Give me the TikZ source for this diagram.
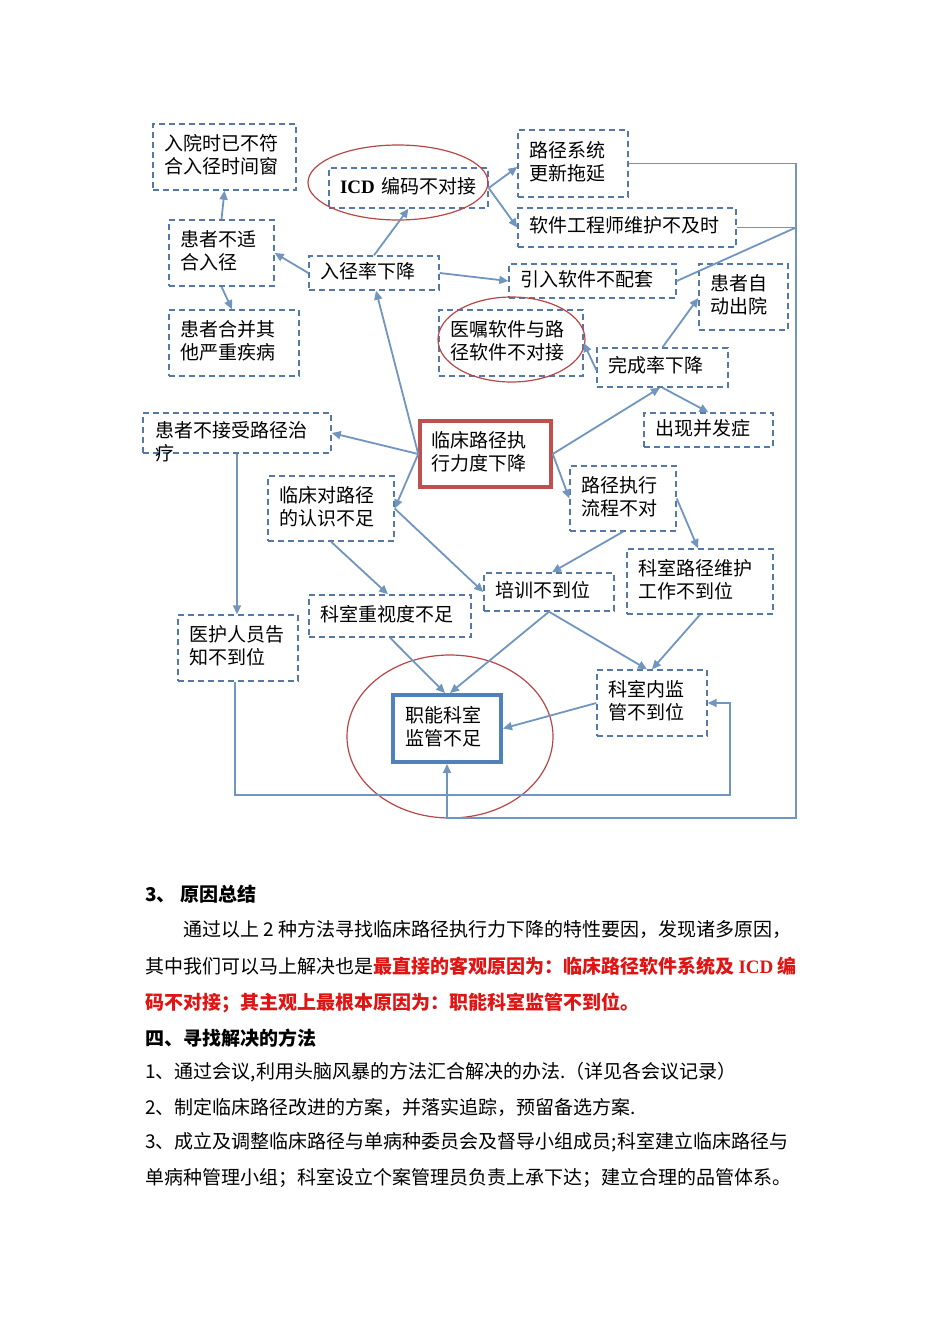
\documentclass[tikz,border=0pt]{standalone}
\usepackage{fontspec}
\setmainfont{Noto Sans CJK SC}
\newfontfamily\serifb{Liberation Serif}
\usetikzlibrary{arrows.meta}
\definecolor{lnblue}{RGB}{112,150,192}
\definecolor{bxblue}{RGB}{84,120,168}
\definecolor{redbox}{RGB}{192,80,77}
\definecolor{ellred}{RGB}{185,70,70}
\definecolor{thickblue}{RGB}{79,129,189}
\definecolor{txtred}{RGB}{225,20,20}
\begin{document}
\begin{tikzpicture}[x=1pt,y=-1pt,
  raise/.style={execute at end node={\endgraf\vspace*{4pt}}},
  bx/.style={draw=bxblue, line width=1.4pt, dash pattern=on 6pt off 4pt, inner xsep=11pt, inner ysep=2pt, align=left, font=\fontsize{19}{23}\selectfont},
  redbx/.style={draw=redbox, line width=3.5pt, inner xsep=11pt, inner ysep=2pt, align=left, font=\fontsize{19}{23}\selectfont, raise},
  bluebx/.style={draw=thickblue, line width=4pt, inner xsep=12pt, inner ysep=2pt, align=left, font=\fontsize{19}{23}\selectfont, raise},
  tbx/.style={bx, raise},
  arr/.style={draw=lnblue, line width=1.8pt, -{Triangle[length=9pt,width=8pt]}},
  ln/.style={draw=lnblue, line width=1.8pt},
  ell/.style={draw=ellred, line width=1.2pt},
  body/.style={anchor=west, inner sep=0pt, font=\fontsize{19}{23}\selectfont}]
\useasboundingbox (0,0) rectangle (950,1344);
\fill[white] (0,0) rectangle (950,1344);

% boxes
\node[tbx, text width=121pt, minimum height=66pt] (A) at (224.5,157) {入院时已不符\\合入径时间窗};
\node[tbx, text width=83pt, minimum height=66pt] (B) at (221.5,253) {患者不适\\合入径};
\node[tbx, text width=108pt, minimum height=66pt] (C) at (234,343) {患者合并其\\他严重疾病};
\node[tbx, text width=137pt, minimum height=40pt] (D) at (408.5,188) {{\serifb\bfseries ICD}~编码不对接};
\node[tbx, text width=108pt, minimum height=34pt] (E) at (374,273) {入径率下降};
\node[tbx, text width=88pt, minimum height=67pt] (F) at (573,163.5) {路径系统\\更新拖延};
\node[tbx, text width=196pt, minimum height=39pt] (G) at (627,227.5) {软件工程师维护不及时};
\node[tbx, text width=145pt, minimum height=34pt] (H) at (592.5,281) {引入软件不配套};
\node[tbx, text width=67pt, minimum height=66pt] (I) at (743.5,297) {患者自\\动出院};
\node[tbx, text width=122pt, minimum height=66pt] (J) at (511,343) {医嘱软件与路\\径软件不对接};
\node[tbx, text width=109pt, minimum height=39pt] (K) at (662.5,367.5) {完成率下降};
\node[tbx, text width=107pt, minimum height=34pt] (L) at (708.5,430) {出现并发症};
\node[bx, minimum width=188pt, minimum height=40pt] (M) at (237,433) {};
\node[anchor=north west, align=left, inner sep=0pt, font=\fontsize{19}{23}\selectfont] (Mt) at (155,421) {患者不接受路径治\\疗};
\node[redbx, text width=109pt, minimum height=66pt] (N) at (485.5,454) {临床路径执\\行力度下降};
\node[tbx, text width=104pt, minimum height=65pt] (O) at (331,508.5) {临床对路径\\的认识不足};
\node[tbx, text width=84pt, minimum height=65pt] (P) at (623,498.5) {路径执行\\流程不对};
\node[tbx, text width=124pt, minimum height=65pt] (Q) at (700,581.5) {科室路径维护\\工作不到位};
\node[tbx, text width=108pt, minimum height=38pt] (R) at (549,592) {培训不到位};
\node[tbx, text width=140pt, minimum height=42pt] (S) at (390,616) {科室重视度不足};
\node[tbx, text width=98pt, minimum height=66pt] (T) at (238,648) {医护人员告\\知不到位};
\node[tbx, text width=88pt, minimum height=66pt] (U) at (652,703) {科室内监\\管不到位};
\node[bluebx, text width=84pt, minimum height=67pt] (V) at (447,728.5) {职能科室\\监管不足};

% ellipses
\draw[ell] (398,182.5) ellipse [x radius=90, y radius=37.5];
\draw[ell] (511.5,339.5) ellipse [x radius=73.5, y radius=42.5];
\draw[ell] (450,736.5) ellipse [x radius=103, y radius=81.5];

% connectors
\draw[arr] (B.north) -- (A.south);
\draw[arr] (B.south) -- ([xshift=-2pt]C.north);
\draw[arr] (E.west) -- (B.east);
\draw[arr] (E.north) -- (D.south);
\draw[arr] (E.east) -- (H.west);
\draw[arr] (D.east) -- ([yshift=-3.5pt]F.west);
\draw[arr] (D.east) -- (G.west);
\draw[arr] (N.west) -- ([xshift=2pt]E.south);
\draw[arr] (N.west) -- (M.east);
\draw[arr] (N.west) -- (O.east);
\draw[arr] (N.east) -- ([xshift=-2.5pt]K.south);
\draw[arr] (N.east) -- (P.west);
\draw[arr] (K.north) -- ([yshift=-1pt]I.west);
\draw[arr] ([yshift=-2.5pt]K.west) -- (J.east);
\draw[arr] (K.south) -- (L.north);
\draw[arr] (O.east) -- (R.west);
\draw[arr] (O.south) -- ([xshift=-2pt]S.north);
\draw[arr] (P.south) -- ([xshift=3pt]R.north);
\draw[arr] (P.east) -- ([xshift=-2pt]Q.north);
\draw[arr] (Q.south) -- (U.north);
\draw[arr] (R.south) -- ([xshift=-5pt]U.north);
\draw[arr] (R.south) -- ([xshift=3pt]V.north);
\draw[arr] (S.south) -- ([xshift=-2pt]V.north);
\draw[arr] (U.west) -- (V.east);
\draw[arr] (M.south) -- (M.south |- T.north);
\coordinate (c1) at (730,795);
\draw[arr] ([xshift=-3pt]T.south) |- (c1) |- (U.east);
\coordinate (c2) at (796,818);
\draw[arr] (F.east) -| (c2) -| (V.south);
\draw[ln] (G.east) -- (G.east -| c2);
\draw[ln] (H.east) -- (G.east -| c2);

% body text
\node[body] (t1) at (145,894) {\bfseries 3、 原因总结};
\node[body] (t2) at (183,929) {通过以上 2 种方法寻找临床路径执行力下降的特性要因，发现诸多原因，};
\node[body] (t3) at (145,966) {其中我们可以马上解决也是{\color{txtred}\bfseries 最直接的客观原因为：临床路径软件系统及 {\serifb ICD} 编}};
\node[body] (t4) at (145,1003) {\color{txtred}\bfseries 码不对接；其主观上最根本原因为：职能科室监管不到位。};
\node[body] (t5) at (145,1038) {\bfseries 四、寻找解决的方法};
\node[body] (t6) at (145,1072) {1、通过会议,利用头脑风暴的方法汇合解决的办法.（详见各会议记录）};
\node[body] (t7) at (145,1107) {2、制定临床路径改进的方案，并落实追踪，预留备选方案.};
\node[body] (t8) at (145,1142) {3、成立及调整临床路径与单病种委员会及督导小组成员;科室建立临床路径与};
\node[body] (t9) at (145,1178) {单病种管理小组；科室设立个案管理员负责上承下达；建立合理的品管体系。};
\end{tikzpicture}
\end{document}
